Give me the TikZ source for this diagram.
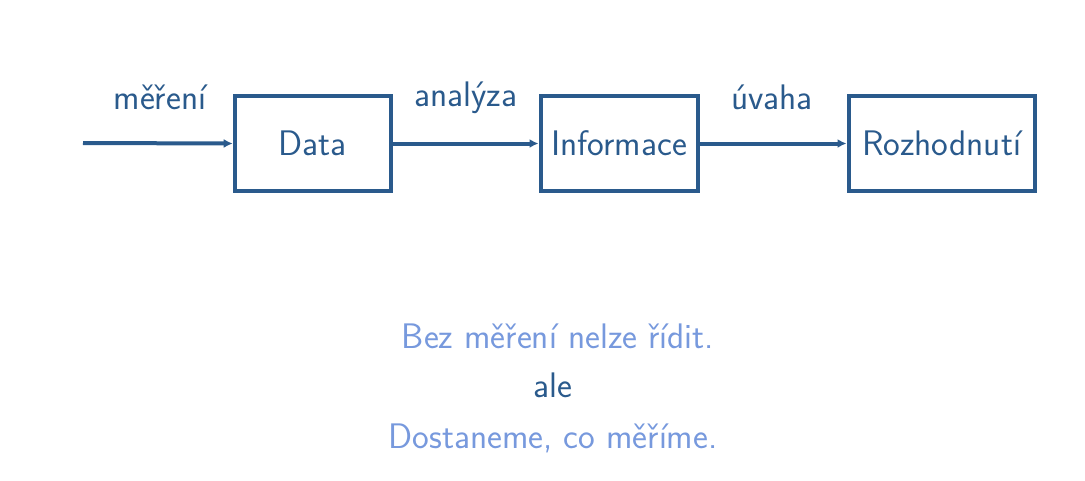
\documentclass[tikz,border=0pt]{standalone}
\usepackage{fontspec}
\usetikzlibrary{arrows.meta}
\definecolor{dblue}{HTML}{2A5A8C}
\definecolor{lblue}{HTML}{7799DD}
\begin{document}
\begin{tikzpicture}[x=1pt,y=-1pt,
  font=\sffamily\fontsize{35.5}{42}\selectfont,
  blockbox/.style={draw=dblue, line width=4pt, text=dblue, inner sep=0pt, minimum height=95pt},
  flow/.style={draw=dblue, line width=4pt, -{Latex[length=9pt,width=9pt]}},
  lbl/.style={text=dblue, anchor=base, inner sep=0pt},
  note/.style={anchor=base, inner sep=0pt}]
\useasboundingbox (0,0) rectangle (1085,480);
\coordinate (in) at (83,143);
\node[blockbox, minimum width=156pt] (data) at (312.7,143.5) {Data};
\node[blockbox, minimum width=157pt] (info) at (619,143.5) {Informace};
\node[blockbox, minimum width=186pt] (roz) at (941.5,143.5) {Rozhodnutí};
\draw[flow] (in) -- (data.west);
\draw[flow] (data.east) -- (info.west);
\draw[flow] (info.east) -- (roz.west);
\node[lbl] (l1) at (160,109) {měření};
\node[lbl] (l2) at (466,106) {analýza};
\node[lbl] (l3) at (772,109) {úvaha};
\node[note, text=lblue] (t1) at (558,348) {Bez měření nelze řídit.};
\node[note, text=dblue] (t2) at (553,397) {ale};
\node[note, text=lblue] (t3) at (553,448) {Dostaneme, co měříme.};
\end{tikzpicture}
\end{document}
